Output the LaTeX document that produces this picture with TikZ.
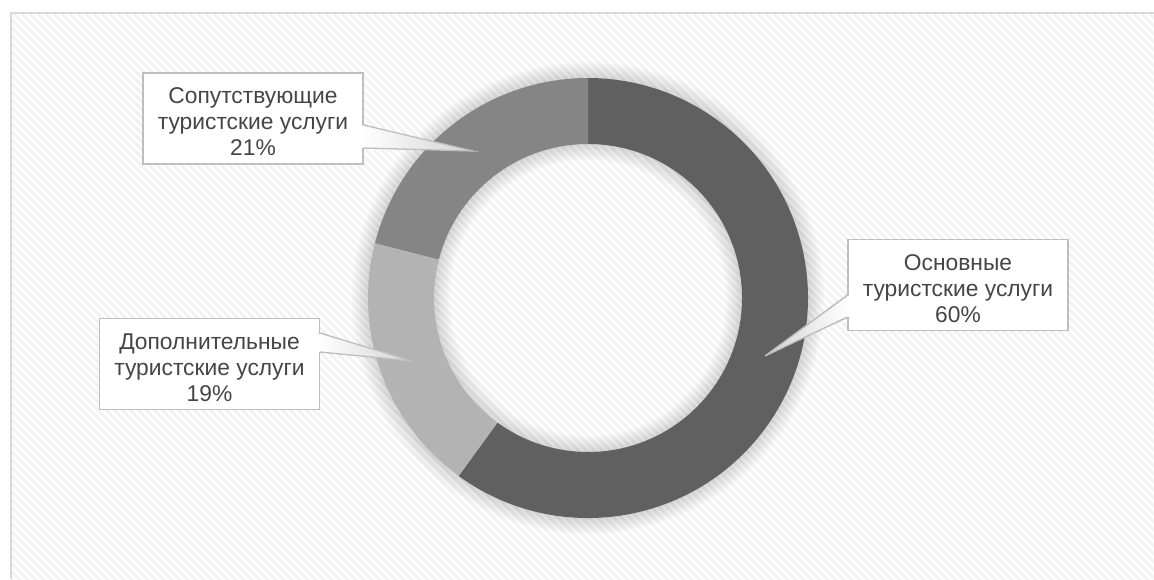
\documentclass[tikz,border=0pt]{standalone}
\usepackage{fontspec}
\setmainfont{Liberation Sans}
\definecolor{segdark}{HTML}{606060}
\definecolor{segmid}{HTML}{858585}
\definecolor{seglight}{HTML}{B3B3B3}
\definecolor{framegray}{HTML}{D9D9D9}
\definecolor{stripe}{HTML}{F2F2F2}
\definecolor{boxline}{HTML}{BFBFBF}
\definecolor{labeltext}{HTML}{454545}
\tikzset{
  labelbox/.style={draw=boxline, line width=1.3pt, fill=white,
    inner sep=0pt, minimum width=220pt, minimum height=91pt},
  labeltxt/.style={text=labeltext, align=center, inner sep=0pt,
    font=\fontsize{22.8}{26}\selectfont},
  pointerline/.style={draw=boxline, line width=1.3pt, line join=miter},
}
\begin{document}
\begin{tikzpicture}[x=1pt, y=-1pt]
  \useasboundingbox (0,0) rectangle (1154,579);
  \fill[white] (0,0) rectangle (1154,579);

  % striped chart area
  \begin{scope}
    \clip (11,13) rectangle (1154,579);
    \foreach \s in {-600,-592,...,1160}
      \draw[stripe, line width=2.6pt] (\s,0) -- ({\s+600},600);
  \end{scope}
  \draw[framegray, line width=2.2pt] (1154,13) -- (11,13) -- (11,579);

  % doughnut with its soft shadow
  \begin{scope}[shift={(588,298)}, x=1pt, y=1pt]
    \foreach \k in {1,...,9}
      \fill[black, opacity=0.016, even odd rule]
        (0,0) circle[radius={220+1.8*\k}] (0,0) circle[radius={154-1.8*\k}];
    \fill[segdark] (-126:220) arc[start angle=-126, end angle=90, radius=220]
      -- (90:154) arc[start angle=90, end angle=-126, radius=154] -- cycle;
    \fill[segmid] (90:220) arc[start angle=90, end angle=165.6, radius=220]
      -- (165.6:154) arc[start angle=165.6, end angle=90, radius=154] -- cycle;
    \fill[seglight] (165.6:220) arc[start angle=165.6, end angle=234, radius=220]
      -- (234:154) arc[start angle=234, end angle=165.6, radius=154] -- cycle;
  \end{scope}

  % data label boxes
  \node[labelbox] (sop) at (253,118.5) {};
  \node[labelbox] (dop) at (209.5,364) {};
  \node[labelbox] (osn) at (958,285) {};

  \coordinate (tipsop) at (473,151);
  \coordinate (tipdop) at (412,361);
  \coordinate (tiposn) at (765,356);

  % callout pointers
  \fill[left color=white, right color=boxline!70]
    ([xshift=-1.5pt, yshift=-6.5pt]sop.east) -- (tipsop) -- ([xshift=-1.5pt, yshift=-29.5pt]sop.east) -- cycle;
  \draw[pointerline] ([yshift=-6.5pt]sop.east) -- (tipsop) -- ([yshift=-29.5pt]sop.east);

  \fill[left color=white, right color=boxline!70]
    ([xshift=-1.5pt, yshift=31pt]dop.east) -- (tipdop) -- ([xshift=-1.5pt, yshift=12pt]dop.east) -- cycle;
  \draw[pointerline] ([yshift=31pt]dop.east) -- (tipdop) -- ([yshift=12pt]dop.east);

  \fill[left color=boxline!70, right color=white]
    ([xshift=1.5pt, yshift=-10pt]osn.west) -- (tiposn) -- ([xshift=1.5pt, yshift=-32pt]osn.west) -- cycle;
  \draw[pointerline] ([yshift=-10pt]osn.west) -- (tiposn) -- ([yshift=-32pt]osn.west);

  % label texts
  \node[labeltxt] (soptxt) at ([yshift=-3.5pt]sop.center) {Сопутствующие\\туристские услуги\\21\%};
  \node[labeltxt] (doptxt) at ([yshift=-3.5pt]dop.center) {Дополнительные\\туристские услуги\\19\%};
  \node[labeltxt] (osntxt) at ([yshift=-3.5pt]osn.center) {Основные\\туристские услуги\\60\%};
\end{tikzpicture}
\end{document}
